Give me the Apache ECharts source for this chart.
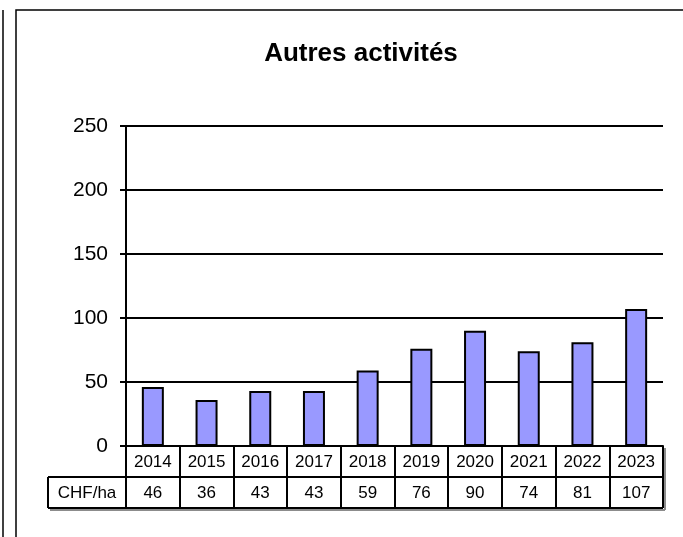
<!DOCTYPE html>
<html>
<head>
<meta charset="utf-8">
<script src="https://cdn.jsdelivr.net/npm/echarts@6/dist/echarts.min.js"></script>
<style>
  html, body { margin: 0; padding: 0; background: #fff; }
  #main { width: 683px; height: 537px; }
</style>
</head>
<body>
<div id="main"></div>
<script>
var years = ['2014', '2015', '2016', '2017', '2018', '2019', '2020', '2021', '2022', '2023'];
var values = [46, 36, 43, 43, 59, 76, 90, 74, 81, 107];
var rowLabel = 'CHF/ha';
var titleText = 'Autres activités';

var font = 'Arial, "Liberation Sans", sans-serif';
var chart = echarts.init(document.getElementById('main'));

var option = {
  animation: false,
  title: {
    text: titleText,
    left: 356,
    top: 36,
    textAlign: 'center',
    textStyle: { fontFamily: font, fontSize: 26, fontWeight: 'bold', color: '#000' }
  },
  grid: { left: 126, right: 20, top: 126, bottom: 91, containLabel: false },
  xAxis: {
    type: 'category',
    data: years,
    axisLine: { lineStyle: { color: '#000', width: 2 } },
    axisTick: { show: true, interval: 0, length: 62, lineStyle: { color: '#000', width: 2 } },
    axisLabel: {
      interval: 0,
      margin: 1,
      formatter: function (v, i) {
        return '{y|' + v + '}\n{v|' + values[i] + '}';
      },
      rich: {
        y: { fontFamily: font, fontSize: 17, color: '#000', lineHeight: 31 },
        v: { fontFamily: font, fontSize: 17, color: '#000', lineHeight: 31 }
      }
    }
  },
  yAxis: {
    type: 'value',
    min: 0,
    max: 250,
    interval: 50,
    axisLine: { show: true, lineStyle: { color: '#000', width: 2 } },
    axisTick: { show: true, length: 6, lineStyle: { color: '#000', width: 2 } },
    axisLabel: { margin: 18, fontFamily: font, fontSize: 21, color: '#000' },
    splitLine: { lineStyle: { color: '#000', width: 2 } }
  },
  series: [{
    type: 'bar',
    data: values,
    barWidth: 22,
    itemStyle: { color: '#9999ff', borderColor: '#000', borderWidth: 2 }
  }]
};
chart.setOption(option);

// table lines
var xa = chart.convertToPixel({ xAxisIndex: 0 }, years[0]);
var xb = chart.convertToPixel({ xAxisIndex: 0 }, years[1]);
var band = xb - xa;
var left = xa - band / 2;
var right = left + band * years.length;
var y0 = chart.convertToPixel({ yAxisIndex: 0 }, 0);
var rowH = 31;
var labelLeft = 48;
var black = { stroke: '#000', lineWidth: 2 };
var grey = { stroke: '#8c8c8c', lineWidth: 2 };

chart.setOption({
  graphic: [
    { type: 'line', shape: { x1: 3, y1: 10, x2: 3, y2: 537 }, style: { stroke: '#000', lineWidth: 1.5 } },
    { type: 'polyline', shape: { points: [[16, 537], [16, 10], [683, 10]] }, style: { stroke: '#000', lineWidth: 1.5, fill: null } },
    { type: 'line', shape: { x1: right + 2, y1: y0 + 2, x2: right + 2, y2: y0 + 2 * rowH + 2 }, style: grey },
    { type: 'line', shape: { x1: labelLeft + 2, y1: y0 + 2 * rowH + 2, x2: right + 2, y2: y0 + 2 * rowH + 2 }, style: grey },
    { type: 'line', shape: { x1: labelLeft, y1: y0 + rowH, x2: right, y2: y0 + rowH }, style: black },
    { type: 'line', shape: { x1: labelLeft, y1: y0 + 2 * rowH, x2: right, y2: y0 + 2 * rowH }, style: black },
    { type: 'line', shape: { x1: labelLeft, y1: y0 + rowH, x2: labelLeft, y2: y0 + 2 * rowH }, style: black },
    { type: 'line', shape: { x1: left, y1: y0, x2: left, y2: y0 + 2 * rowH }, style: black },
    { type: 'line', shape: { x1: right, y1: y0, x2: right, y2: y0 + 2 * rowH }, style: black },
    {
      type: 'text', x: (labelLeft + left) / 2, y: y0 + rowH * 1.5 + 1,
      style: { text: rowLabel, fontFamily: font, fontSize: 17, fill: '#000', align: 'center', verticalAlign: 'middle' }
    }
  ]
});
</script>
</body>
</html>
